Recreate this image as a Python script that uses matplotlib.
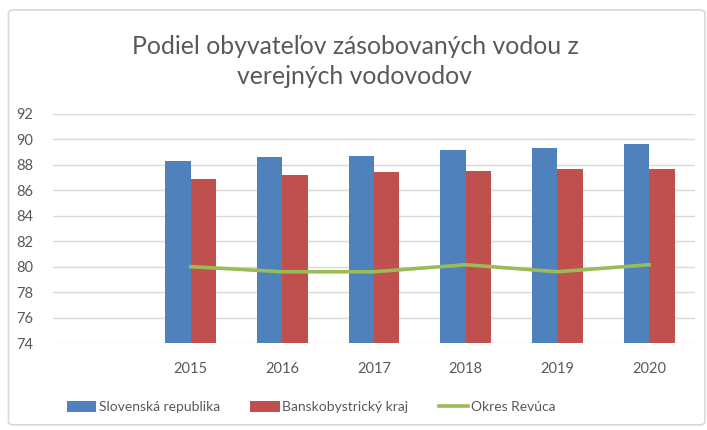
import numpy as np
import matplotlib.pyplot as plt
from matplotlib.patches import Patch, FancyBboxPatch
from matplotlib.lines import Line2D

plt.rcParams["font.family"] = ["Lato", "DejaVu Sans"]

# data; first category slot is empty in the original
categories = ["", "2015", "2016", "2017", "2018", "2019", "2020"]
slovensko = [np.nan, 88.3, 88.6, 88.7, 89.2, 89.35, 89.65]
bb_kraj = [np.nan, 86.9, 87.2, 87.4, 87.5, 87.65, 87.65]
revuca = [np.nan, 80.0, 79.6, 79.6, 80.15, 79.6, 80.15]
yticks = [74, 76, 78, 80, 82, 84, 86, 88, 90, 92]

c_blue, c_red, c_green = "#4f81bd", "#c0504d", "#9bbb59"
grey_txt = "#595959"

fig = plt.figure(figsize=(7.07, 4.30), dpi=100)
ax = fig.add_axes([0.075, 0.2023, 0.908, 0.5327])

x = np.arange(len(categories), dtype=float)
w = 0.278
ax.bar(x - w / 2, slovensko, width=w, color=c_blue, zorder=2)
ax.bar(x + w / 2, bb_kraj, width=w, color=c_red, zorder=2)
ax.plot(x, revuca, color=c_green, linewidth=2.6, zorder=3)

ax.set_xlim(-0.5, len(categories) - 0.5)
ax.set_ylim(74, 92)
ax.set_yticks(yticks)
ax.set_xticks(x)
ax.set_xticklabels(categories)
ax.tick_params(axis="both", length=0, labelsize=10.5, colors=grey_txt)
ax.tick_params(axis="x", pad=14)
ax.tick_params(axis="y", pad=14)
for s in ax.spines.values():
    s.set_visible(False)
ax.grid(axis="y", color="#d9d9d9", linewidth=1.0, zorder=0)
ax.set_axisbelow(True)

fig.text(0.502, 0.857, "Podiel obyvateľov zásobovaných vodou z\nverejných vodovodov",
         ha="center", va="center", fontsize=17.8, color=grey_txt, linespacing=1.32)

handles = [
    Patch(facecolor=c_blue, label="Slovenská republika"),
    Patch(facecolor=c_red, label="Banskobystrický kraj"),
    Line2D([0], [0], color=c_green, linewidth=2.6, label="Okres Revúca"),
]
fig.legend(handles=handles, loc="center", bbox_to_anchor=(0.44, 0.053), ncol=3,
           frameon=False, fontsize=10, labelcolor=grey_txt, handlelength=2.1,
           handleheight=0.8, handletextpad=0.2, columnspacing=2.2)

border = FancyBboxPatch((0.012, 0.012), 0.985, 0.965, boxstyle="round,pad=0,rounding_size=0.008",
                        transform=fig.transFigure, fill=False, edgecolor="#d9d9d9", linewidth=1.2)
fig.patches.append(border)

fig.savefig("out.png", dpi=100)
